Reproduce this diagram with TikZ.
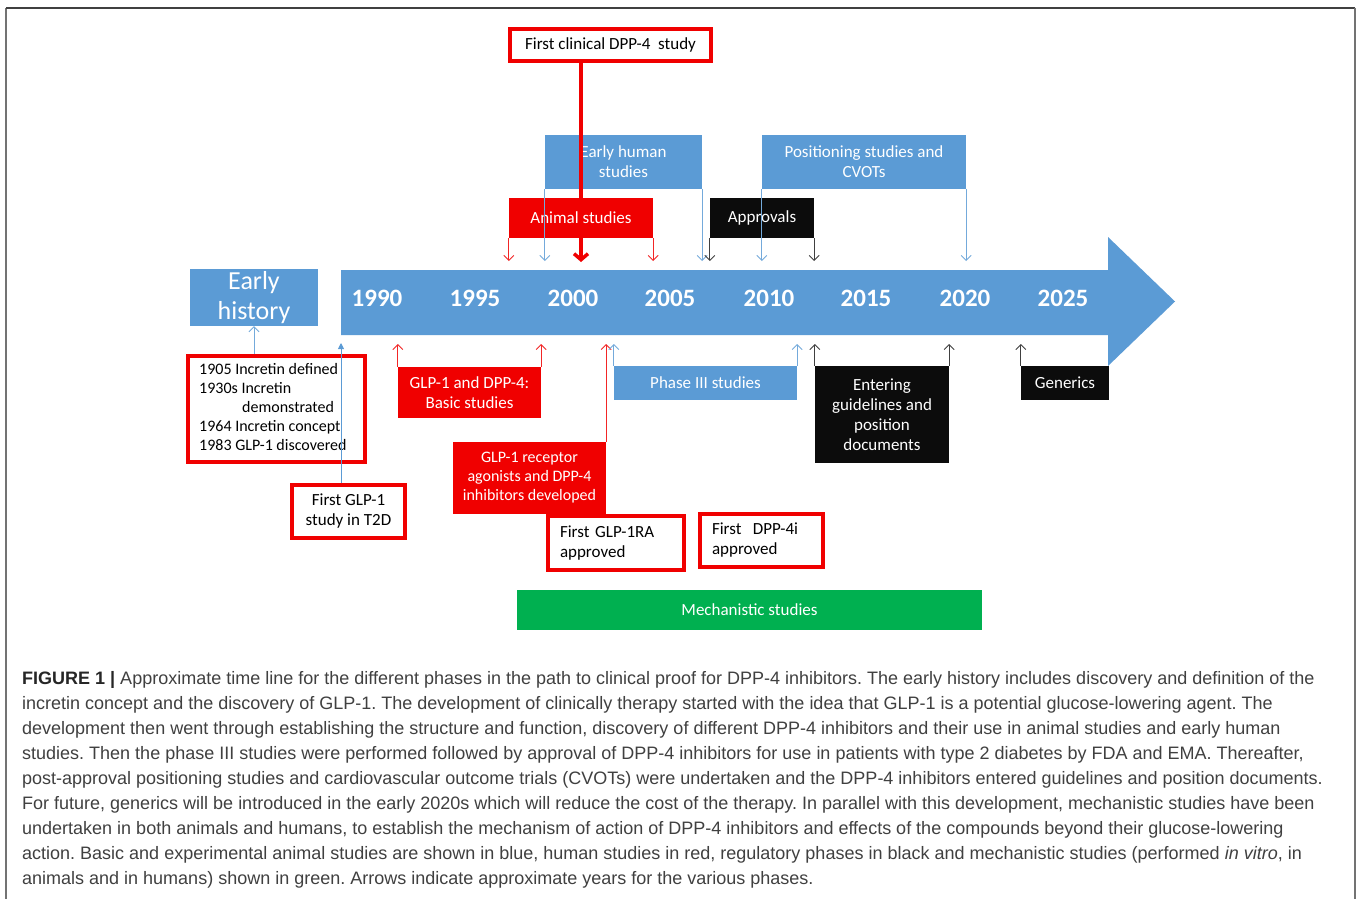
\documentclass[tikz,border=0pt]{standalone}
\usepackage{fontspec}
\setmainfont{Carlito}
\newfontfamily\capfont{Liberation Sans}
\usetikzlibrary{arrows.meta,calc}
\definecolor{tlblue}{RGB}{91,155,213}
\definecolor{tlred}{RGB}{240,0,0}
\definecolor{tlblack}{RGB}{12,12,12}
\definecolor{tlgreen}{RGB}{0,176,80}
\definecolor{capgray}{RGB}{64,64,64}
\pgfdeclarelayer{bg}
\pgfsetlayers{bg,main}
\frenchspacing
\begin{document}
\begin{tikzpicture}[x=1pt,y=-1pt,
  box/.style={inner sep=0pt, align=center, font=\fontsize{17}{20}\selectfont, text=white},
  bluebox/.style={box, fill=tlblue},
  redbox/.style={box, fill=tlred},
  blackbox/.style={box, fill=tlblack},
  outlinebox/.style={box, draw=tlred, line width=4pt, fill=white, text=black},
  year/.style={font=\fontsize{25}{25}\selectfont\bfseries, text=white, inner sep=0pt},
  thin/.style={line width=0.9pt, -{Straight Barb[length=5pt,width=10pt]}},
  thinblue/.style={thin, draw=tlblue!85},
  thinred/.style={thin, draw=tlred!85},
  thinblack/.style={thin, draw=black!75},
  capline/.style={anchor=base west, inner sep=0pt, text=capgray, font=\capfont\fontsize{18}{25}\selectfont},
]
\useasboundingbox (0,0) rectangle (1358,899);
\fill[white] (0,0) rectangle (1358,899);
% frame
\draw[black!55, line width=1.2pt] (6,899) -- (6,8);
\draw[black!75, line width=1.5pt] (6,8) -- (1355,8);
\draw[black!55, line width=2pt] (1355,8) -- (1355,899);

% timeline arrow
\fill[tlblue] (341,270) -- (1108,270) -- (1108,237) -- (1175,301.5) -- (1108,366) -- (1108,335) -- (341,335) -- cycle;
\foreach \yr/\xx in {1990/377,1995/475,2000/573,2005/670,2010/769,2015/866,2020/965,2025/1063}
  \node[year] (y\yr) at (\xx,298) {\yr};

% coordinates for arrow tips
\coordinate (dtip) at (0,261);
\coordinate (utip) at (0,344);

% top boxes
\node[outlinebox, minimum width=201pt, minimum height=32pt] (fcs) at (610.5,45) {First clinical DPP-4\ \ study};
\node[bluebox, minimum width=157pt, minimum height=54pt] (ehs) at (623.5,162) {Early human\\studies};
\node[bluebox, minimum width=204pt, minimum height=54pt] (pos) at (864,162) {Positioning studies and\\CVOTs};
\node[redbox, minimum width=144pt, minimum height=40pt] (ani) at (581,218) {Animal studies};
\node[blackbox, minimum width=104pt, minimum height=40pt] (app) at (762,218) {Approvals};

% left boxes
\node[bluebox, minimum width=128pt, minimum height=57pt, font=\fontsize{26}{30}\selectfont] (eh) at (254,297.5) {Early\\history};
\node[outlinebox, minimum width=177pt, minimum height=106pt] (lst) at (276.5,409) {};
\node[anchor=north west, inner sep=0pt, align=left, font=\fontsize{16}{19}\selectfont] (lsttxt) at (199,363)
  {1905 Incretin defined\\1930s Incretin\\\hspace*{43pt}demonstrated\\1964 Incretin concept\\1983 GLP-1 discovered};
\node[outlinebox, minimum width=113pt, minimum height=53pt] (t2d) at (348.5,511.5) {First GLP-1\\study in T2D};

% lower boxes
\node[redbox, minimum width=153pt, minimum height=72pt, font=\fontsize{16}{19}\selectfont] (rec) at (529.5,478) {GLP-1 receptor\\agonists and DPP-4\\inhibitors developed};
\node[outlinebox, minimum width=136pt, minimum height=54pt, align=left, text width=112pt] (ra) at (616,543) {First GLP-1RA\\approved};
\node[outlinebox, minimum width=123pt, minimum height=53pt, align=left, text width=99pt] (dpp) at (761.5,540.5) {First\ \ DPP-4i\\approved};
\node[redbox, minimum width=143pt, minimum height=51pt] (bas) at (469.5,392.5) {GLP-1 and DPP-4:\\Basic studies};
\node[bluebox, minimum width=183pt, minimum height=34pt] (ph3) at (705.5,383) {Phase III studies};
\node[blackbox, minimum width=134pt, minimum height=97pt] (ent) at (882,414.5) {Entering\\guidelines and\\position\\documents};
\node[blackbox, minimum width=88pt, minimum height=34pt] (gen) at (1065,383) {Generics};
\node[box, fill=tlgreen, minimum width=465pt, minimum height=40pt] (mec) at (749.5,610) {Mechanistic studies};

% hidden connectors (behind boxes)
\coordinate (raU) at (678,344);
\coordinate (dpU) at (702,344);
\begin{pgfonlayer}{bg}
\draw[thinred] (rec.north west) -- (rec.north west |- utip);
\draw[thinred] (ra.north -| raU) -- (raU);
\draw[thinred] (dpp.north -| dpU) -- (dpU);
\end{pgfonlayer}

% up connectors
\draw[thinblue] (lst.north -| eh.south) -- (eh.south);
\coordinate (t2U) at (341,343);
\draw[tlblue, line width=0.9pt, -{Triangle[length=6pt,width=6pt]}] (t2d.north -| t2U) -- (t2U);
\draw[thinred] (bas.north west) -- (bas.north west |- utip);
\draw[thinred] (bas.north east) -- (bas.north east |- utip);
\draw[thinred] (rec.north east) -- (rec.north east |- utip);
\draw[thinblue] (ph3.north west) -- (ph3.north west |- utip);
\draw[thinblue] (ph3.north east) -- (ph3.north east |- utip);
\draw[thinblack] (ent.north west) -- (ent.north west |- utip);
\draw[thinblack] (ent.north east) -- (ent.north east |- utip);
\draw[thinblack] (gen.north west) -- (gen.north west |- utip);

% down connectors
\draw[thinred] (ani.south west) -- (ani.south west |- dtip);
\draw[thinred] (ani.south east) -- (ani.south east |- dtip);
\draw[thinblue] (ehs.south west) -- (ehs.south west |- dtip);
\draw[thinblue] (ehs.south east) -- (ehs.south east |- dtip);
\draw[thinblack] (app.south west) -- (app.south west |- dtip);
\draw[thinblack] (app.south east) -- (app.south east |- dtip);
\draw[thinblue] (pos.south west) -- (pos.south west |- dtip);
\draw[thinblue] (pos.south east) -- (pos.south east |- dtip);
\coordinate (fcD) at (581,262);
\draw[tlred, line width=3.5pt, -{Straight Barb[length=6pt,width=14pt]}] (fcs.south -| fcD) -- (fcD);

% caption
\node[capline] (c1) at (22,684) {\textcolor{black!85}{\textbf{FIGURE 1 |}} Approximate time line for the different phases in the path to clinical proof for DPP-4 inhibitors. The early history includes discovery and definition of the};
\node[capline] (c2) at (22,709.1) {incretin concept and the discovery of GLP-1. The development of clinically therapy started with the idea that GLP-1 is a potential glucose-lowering agent. The};
\node[capline] (c3) at (22,734.2) {development then went through establishing the structure and function, discovery of different DPP-4 inhibitors and their use in animal studies and early human};
\node[capline] (c4) at (22,759.3) {studies. Then the phase III studies were performed followed by approval of DPP-4 inhibitors for use in patients with type 2 diabetes by FDA and EMA. Thereafter,};
\node[capline] (c5) at (22,784.4) {post-approval positioning studies and cardiovascular outcome trials (CVOTs) were undertaken and the DPP-4 inhibitors entered guidelines and position documents.};
\node[capline] (c6) at (22,809.5) {For future, generics will be introduced in the early 2020s which will reduce the cost of the therapy. In parallel with this development, mechanistic studies have been};
\node[capline] (c7) at (22,834.6) {undertaken in both animals and humans, to establish the mechanism of action of DPP-4 inhibitors and effects of the compounds beyond their glucose-lowering};
\node[capline] (c8) at (22,859.7) {action. Basic and experimental animal studies are shown in blue, human studies in red, regulatory phases in black and mechanistic studies (performed \textit{in vitro}, in};
\node[capline] (c9) at (22,884.8) {animals and in humans) shown in green. Arrows indicate approximate years for the various phases.};
\end{tikzpicture}
\end{document}
